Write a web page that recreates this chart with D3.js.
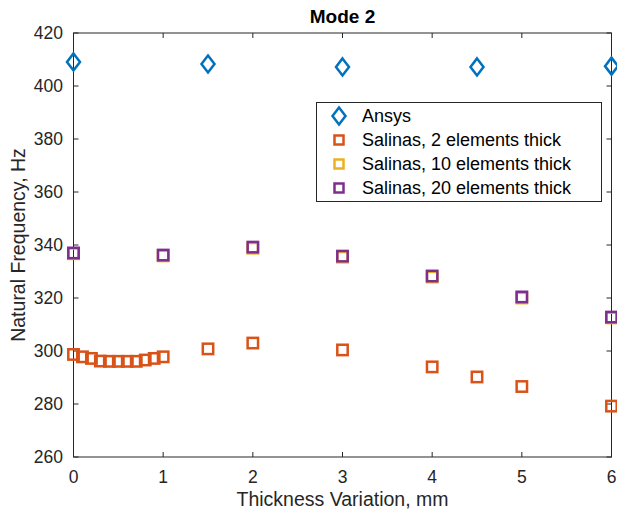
<!DOCTYPE html>
<html><head><meta charset="utf-8">
<script src="https://cdn.jsdelivr.net/npm/d3@7"></script>
<style>body{margin:0;background:#fff}svg{display:block}text{font-family:"Liberation Sans",Arial,sans-serif}</style>
</head><body><svg id="c" width="617" height="511"></svg>
<script>
const xTicks = [0,1,2,3,4,5,6];
const yTicks = [260,280,300,320,340,360,380,400,420];
const ansysX = [0,1.5,3,4.5,6];
const ansysY = [409.1,408.3,407.2,407.2,407.5];
const sal2X = [0,0.1,0.2,0.3,0.4,0.5,0.6,0.7,0.8,0.9,1.0,1.5,2,3,4,4.5,5,6];
const sal2Y = [298.7,297.8,297.2,296.2,296.1,296.1,296.1,296.1,296.6,297.2,297.8,300.8,303.0,300.4,294.0,290.2,286.6,279.2];
const sal10X = [0,1,2,3,4,5,6];
const sal10Y = [336.7,335.9,338.8,335.4,327.9,320.0,312.5];
const sal20X = [0,1,2,3,4,5,6];
const sal20Y = [337.0,336.2,339.2,335.8,328.3,320.4,312.8];
const legendLabels = ["Ansys","Salinas, 2 elements thick","Salinas, 10 elements thick","Salinas, 20 elements thick"];
const colors = ["#0072BD","#D95319","#EDB120","#7E2F8E"];

const svg = d3.select("#c");
const L=73.5,R=611.5,T=33,B=457;
const x = d3.scaleLinear().domain([0,6]).range([L,R]);
const y = d3.scaleLinear().domain([260,420]).range([B,T]);
const axCol="#262626";

svg.append("rect").attr("x",L).attr("y",T).attr("width",R-L).attr("height",B-T)
  .attr("fill","none").attr("stroke",axCol).attr("stroke-width",1);

const tk=5;
const gx=svg.append("g");
xTicks.forEach(v=>{
  gx.append("line").attr("x1",x(v)).attr("x2",x(v)).attr("y1",B).attr("y2",B-tk).attr("stroke",axCol);
  gx.append("line").attr("x1",x(v)).attr("x2",x(v)).attr("y1",T).attr("y2",T+tk).attr("stroke",axCol);
  gx.append("text").attr("x",x(v)).attr("y",B+25.5).attr("text-anchor","middle").attr("font-size",17.5).attr("fill",axCol).text(v);
});
yTicks.forEach(v=>{
  gx.append("line").attr("x1",L).attr("x2",L+tk).attr("y1",y(v)).attr("y2",y(v)).attr("stroke",axCol);
  gx.append("line").attr("x1",R).attr("x2",R-tk).attr("y1",y(v)).attr("y2",y(v)).attr("stroke",axCol);
  gx.append("text").attr("x",L-10.5).attr("y",y(v)+6.3).attr("text-anchor","end").attr("font-size",17.5).attr("fill",axCol).text(v);
});

svg.append("text").attr("x",(L+R)/2).attr("y",506).attr("text-anchor","middle").attr("font-size",19.5).attr("fill",axCol).text("Thickness Variation, mm");
svg.append("text").attr("transform",`translate(25,${(T+B)/2}) rotate(-90)`).attr("text-anchor","middle").attr("font-size",19.5).attr("fill",axCol).text("Natural Frequency, Hz");
svg.append("text").attr("x",(L+R)/2).attr("y",23).attr("text-anchor","middle").attr("font-size",19).attr("font-weight","bold").attr("fill","#000").text("Mode 2");

function diamond(g,cx,cy,col){
  g.append("path").attr("d",`M${cx},${cy-8.5}L${cx+6.5},${cy}L${cx},${cy+8.5}L${cx-6.5},${cy}Z`)
   .attr("fill","none").attr("stroke",col).attr("stroke-width",2.5);
}
function square(g,cx,cy,col){
  const s=5.2;
  g.append("rect").attr("x",cx-s).attr("y",cy-s).attr("width",2*s).attr("height",2*s)
   .attr("fill","none").attr("stroke",col).attr("stroke-width",2.5);
}
const pts=svg.append("g");
ansysX.forEach((v,i)=>diamond(pts,x(v),y(ansysY[i]),colors[0]));
sal2X.forEach((v,i)=>square(pts,x(v),y(sal2Y[i]),colors[1]));
sal10X.forEach((v,i)=>square(pts,x(v),y(sal10Y[i]),colors[2]));
sal20X.forEach((v,i)=>square(pts,x(v),y(sal20Y[i]),colors[3]));

const lg=svg.append("g");
lg.append("rect").attr("x",316.5).attr("y",102.5).attr("width",285).attr("height",99)
  .attr("fill","#fff").attr("stroke",axCol).attr("stroke-width",1);
legendLabels.forEach((t,i)=>{
  const cy=116+i*24;
  if(i===0) diamond(lg,339,cy,colors[0]); else { const s=4.5; lg.append("rect").attr("x",339-s).attr("y",cy-s).attr("width",2*s).attr("height",2*s).attr("fill","none").attr("stroke",colors[i]).attr("stroke-width",2.5); }
  lg.append("text").attr("x",362).attr("y",cy+6.3).attr("font-size",18).attr("fill","#000").text(t);
});
</script></body></html>
